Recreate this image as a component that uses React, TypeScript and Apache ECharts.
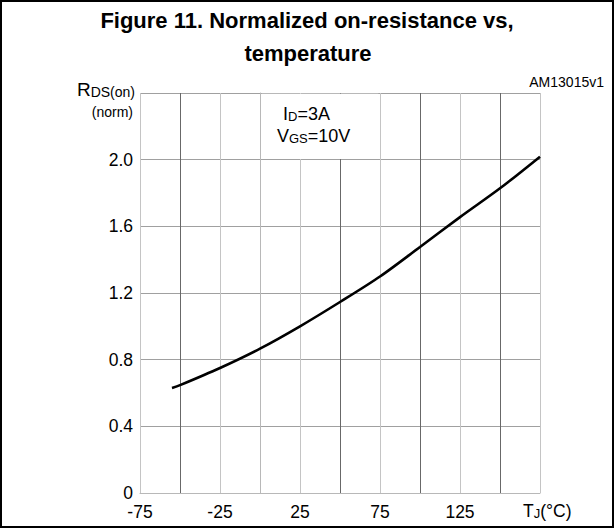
import React, { useEffect, useRef } from "react";
import * as echarts from "echarts";

const temperatures = [-55, -50, -25, 0, 25, 50, 75, 100, 125, 150, 175];
const resistance = [0.63, 0.647, 0.75, 0.866, 1.0, 1.146, 1.299, 1.476, 1.655, 1.828, 2.018];
const xLabels = [-75, -25, 25, 75, 125];
const yLabels = [0, 0.4, 0.8, 1.2, 1.6, 2.0];

const FONT = "'Liberation Sans', Arial, Helvetica, sans-serif";

export default function App() {
  const ref = useRef<HTMLDivElement>(null);
  useEffect(() => {
    document.body.style.margin = "0";
    const chart = echarts.init(ref.current!, null, { renderer: "svg" });
    chart.setOption({
      animation: false,
      backgroundColor: "#fff",
      textStyle: { fontFamily: FONT },
      grid: { left: 140, right: 75, top: 93, bottom: 36, containLabel: false },
      xAxis: {
        type: "value",
        min: -75,
        max: 175,
        interval: 25,
        axisLine: { show: true, lineStyle: { color: "#b8b8b8", width: 1 } },
        axisTick: { show: false },
        splitLine: { show: true, lineStyle: { color: ["#c4c4c4", "#686868"], width: 1 } },
        axisLabel: {
          fontSize: 17.5,
          color: "#000",
          fontFamily: FONT,
          margin: 10,
          formatter: (v: number) => (xLabels.includes(v) ? String(v) : ""),
        },
      },
      yAxis: {
        type: "value",
        min: 0,
        max: 2.4,
        interval: 0.4,
        axisLine: { show: true, lineStyle: { color: "#b8b8b8", width: 1 } },
        axisTick: { show: false },
        splitLine: { show: true, lineStyle: { color: "#a0a0a0", width: 1 } },
        axisLabel: {
          fontSize: 17.5,
          color: "#000",
          fontFamily: FONT,
          margin: 7,
          padding: [6, 0, 0, 0],
          formatter: (v: number) => {
            const r = Math.round(v * 10) / 10;
            if (!yLabels.includes(r)) return "";
            return r === 0 ? "0" : r.toFixed(1);
          },
        },
      },
      series: [
        {
          type: "line",
          data: temperatures.map((t, i) => [t, resistance[i]]),
          smooth: 0.3,
          symbol: "none",
          lineStyle: { color: "#000", width: 2.6 },
          markArea: {
            silent: true,
            itemStyle: { color: "#fff" },
            data: [[{ coord: [1, 2.004] }, { coord: [74, 2.396] }]],
          },
        },
      ],
      graphic: [
        {
          type: "rect",
          shape: { x: 1, y: 1, width: 612, height: 526 },
          style: { fill: "none", stroke: "#000", lineWidth: 2 },
          z: 100,
        },
        {
          type: "text",
          x: 307,
          y: 20,
          style: {
            text: "Figure 11. Normalized on-resistance vs,",
            fontSize: 22,
            fontWeight: "bold",
            fontFamily: FONT,
            fill: "#000",
            align: "center",
            verticalAlign: "middle",
          },
        },
        {
          type: "text",
          x: 308,
          y: 53,
          style: {
            text: "temperature",
            fontSize: 22,
            fontWeight: "bold",
            fontFamily: FONT,
            fill: "#000",
            align: "center",
            verticalAlign: "middle",
          },
        },
        {
          type: "text",
          x: 604,
          y: 82,
          style: {
            text: "AM13015v1",
            fontSize: 14,
            fontFamily: FONT,
            fill: "#000",
            align: "right",
            verticalAlign: "middle",
          },
        },
        {
          type: "text",
          x: 135,
          y: 89,
          style: {
            text: "{b|R}{s|DS(on)}",
            fontFamily: FONT,
            fill: "#000",
            align: "right",
            verticalAlign: "middle",
            rich: {
              b: { fontSize: 19, fontFamily: FONT, fill: "#000", verticalAlign: "bottom" },
              s: { fontSize: 14, fontFamily: FONT, fill: "#000", verticalAlign: "bottom" },
            },
          },
        },
        {
          type: "text",
          x: 133,
          y: 112,
          style: {
            text: "(norm)",
            fontSize: 14,
            fontFamily: FONT,
            fill: "#000",
            align: "right",
            verticalAlign: "middle",
          },
        },
        {
          type: "text",
          x: 283,
          y: 114,
          style: {
            text: "{b|I}{s|D}{b|=3A}",
            fontFamily: FONT,
            fill: "#000",
            align: "left",
            verticalAlign: "middle",
            rich: {
              b: { fontSize: 18, fontFamily: FONT, fill: "#000", verticalAlign: "bottom" },
              s: { fontSize: 13, fontFamily: FONT, fill: "#000", verticalAlign: "bottom" },
            },
          },
          z: 50,
        },
        {
          type: "text",
          x: 277,
          y: 136,
          style: {
            text: "{b|V}{s|GS}{b|=10V}",
            fontFamily: FONT,
            fill: "#000",
            align: "left",
            verticalAlign: "middle",
            rich: {
              b: { fontSize: 18, fontFamily: FONT, fill: "#000", verticalAlign: "bottom" },
              s: { fontSize: 13, fontFamily: FONT, fill: "#000", verticalAlign: "bottom" },
            },
          },
          z: 50,
        },
        {
          type: "text",
          x: 523,
          y: 511,
          style: {
            text: "{b|T}{s|J}{b|(°C)}",
            fontFamily: FONT,
            fill: "#000",
            align: "left",
            verticalAlign: "middle",
            rich: {
              b: { fontSize: 17.5, fontFamily: FONT, fill: "#000", verticalAlign: "bottom" },
              s: { fontSize: 13, fontFamily: FONT, fill: "#000", verticalAlign: "bottom" },
            },
          },
        },
      ],
    });
    return () => chart.dispose();
  }, []);
  return <div ref={ref} style={{ width: 615, height: 529 }} />;
}
